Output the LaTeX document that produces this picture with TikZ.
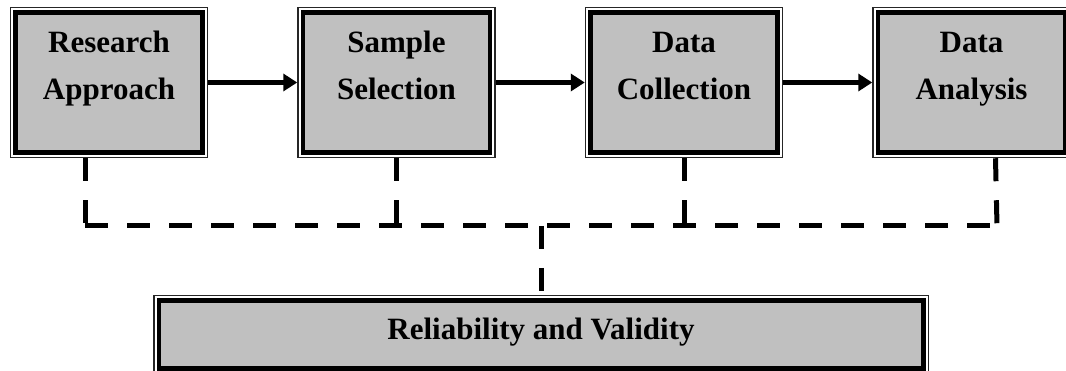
\documentclass[tikz,border=0pt]{standalone}
\usepackage{fontspec}
\setmainfont{Liberation Serif}
\usepackage{xcolor}
\usetikzlibrary{arrows.meta, positioning}

\definecolor{stagegray}{HTML}{C0C0C0}

\begin{document}
\begin{tikzpicture}[x=1pt, y=-1pt,
    stagebox/.style={fill=stagegray, draw=black, line width=4.5pt, inner sep=0pt, outer sep=5.75pt,
        preaction={draw=black!85, line width=11.5pt},
        preaction={draw=white, line width=8.5pt},
        font=\fontsize{31}{47}\selectfont\bfseries, align=center},
    stepbox/.style={stagebox, minimum width=187pt, minimum height=140pt, text height=67pt, text depth=32pt},
    flow/.style={line width=5pt, -{Triangle[length=14pt, width=17pt]}},
    linkdash/.style={line width=5pt, dash pattern=on 23pt off 19pt}]
    \useasboundingbox (0,0) rectangle (1066,371);
    \node[stepbox] (approach) at (109,82.5) {Research\\Approach};
    \node[stepbox, right=89pt of approach] (sample) {Sample\\Selection};
    \node[stepbox, right=89pt of sample] (collection) {Data\\Collection};
    \node[stepbox, right=89pt of collection] (analysis) {Data\\Analysis};
    \node[stagebox, minimum width=764.5pt, minimum height=67.75pt, text height=20pt, text depth=9.2pt] (reliability) at (541,334.6) {Reliability and Validity};
    \draw[flow] (approach) -- (sample);
    \draw[flow] (sample) -- (collection);
    \draw[flow] (collection) -- (analysis);
    \coordinate (busL) at (85,226);
    \coordinate (busR) at (997,226);
    \draw[linkdash] ([xshift=-24pt]approach.south) -- (busL);
    \draw[linkdash] (sample.south) -- (sample.south |- busL);
    \draw[linkdash] (collection.south) -- (collection.south |- busL);
    \draw[linkdash] ([xshift=24pt]analysis.south) -- (busR);
    \draw[linkdash] (busL) -- (busR);
    \draw[linkdash] (reliability.north |- busL) -- (reliability.north);
\end{tikzpicture}
\end{document}
